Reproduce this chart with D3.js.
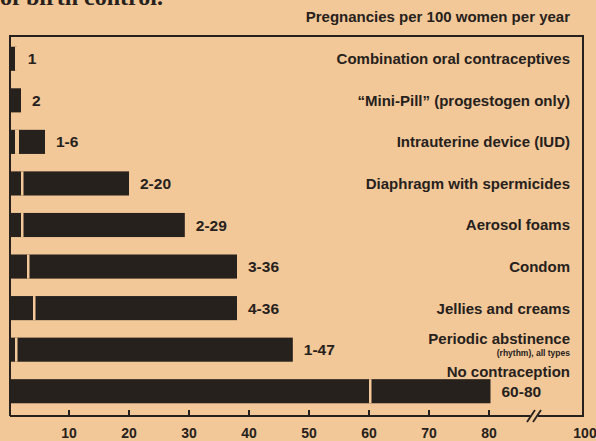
<!DOCTYPE html>
<html>
<head>
<meta charset="utf-8">
<script src="https://cdn.jsdelivr.net/npm/d3@7"></script>
<style>
  html, body { margin: 0; padding: 0; background: #f2c898; }
  svg { display: block; }
  text { font-family: "Liberation Sans", Arial, sans-serif; font-weight: bold; fill: #26211c; }
</style>
</head>
<body>
<svg id="chart" width="596" height="441"></svg>
<script>
// ---- data ----
const categories = [
  "Combination oral contraceptives",
  "\u201CMini-Pill\u201D (progestogen only)",
  "Intrauterine device (IUD)",
  "Diaphragm with spermicides",
  "Aerosol foams",
  "Condom",
  "Jellies and creams",
  "Periodic abstinence",
  "No contraception"
];
const lowValues  = [1, 2, 1, 2, 2, 3, 4, 1, 60];
const highValues = [1.3, 2, 6, 20, 29.3, 38, 38, 47.3, 80.3];
const rangeLabels = ["1", "2", "1-6", "2-20", "2-29", "3-36", "4-36", "1-47", "60-80"];
const subLabels = ["", "", "", "", "", "", "", "(rhythm), all types", ""];
const tickValues = [10, 20, 30, 40, 50, 60, 70, 80];
const tickLabels = ["10", "20", "30", "40", "50", "60", "70", "80", "100"];
const tickLabelValues = [10, 20, 30, 40, 50, 60, 70, 80, 100];
const unitTitle = "Pregnancies per 100 women per year";
const cutText = "of birth control.";

// ---- drawing ----
const bgCol = "#f2c898", ink = "#26211c";
const svg = d3.select("#chart");

const x = d3.scaleLinear().domain([0, 80, 100]).range([9, 489, 589]);
const y = d3.scaleBand().domain(categories).range([38, 412]).paddingInner(0.42).paddingOuter(0.21);

// heading text cut off at the top edge, as in the reference clipping
svg.append("text").attr("x", 0).attr("y", 5)
  .style("font-family", "'Liberation Serif', serif").style("font-size", "24px")
  .text(cutText);

svg.append("text").attr("x", 570).attr("y", 22).attr("text-anchor", "end")
  .style("font-size", "15px").text(unitTitle);

// frame
const frameL = 10, frameR = 583, frameT = 36, axisY = 416;
svg.append("path")
  .attr("d", `M${frameL},${axisY} V${frameT} H${frameR} V${axisY} H${frameL}`)
  .attr("fill", "none").attr("stroke", ink).attr("stroke-width", 2);

// axis break
const bx = x(89);
svg.append("rect").attr("x", bx - 4).attr("y", axisY - 2).attr("width", 8).attr("height", 4).attr("fill", bgCol);
[-3, 3].forEach(o => {
  svg.append("line")
    .attr("x1", bx + o - 4).attr("y1", axisY + 6).attr("x2", bx + o + 4).attr("y2", axisY - 6)
    .attr("stroke", ink).attr("stroke-width", 1.8);
});

// ticks
svg.selectAll(".tick").data(tickValues).enter().append("line")
  .attr("x1", d => x(d)).attr("x2", d => x(d))
  .attr("y1", axisY).attr("y2", axisY - 6)
  .attr("stroke", ink).attr("stroke-width", 2);

svg.selectAll(".tl").data(tickLabelValues).enter().append("text")
  .attr("x", (d, i) => d === 100 ? 585 : x(d))
  .attr("y", 438).attr("text-anchor", "middle")
  .style("font-size", "14px")
  .text((d, i) => tickLabels[i]);

// bars
const rows = categories.map((c, i) => ({c, lo: lowValues[i], hi: highValues[i], lab: rangeLabels[i], sub: subLabels[i], i}));

svg.selectAll(".bar").data(rows).enter().append("rect")
  .attr("x", x(0)).attr("y", d => y(d.c))
  .attr("width", d => x(d.hi) - x(0)).attr("height", y.bandwidth())
  .attr("fill", ink);

svg.selectAll(".div").data(rows.filter(d => d.lo < d.hi)).enter().append("rect")
  .attr("x", d => x(d.lo)).attr("y", d => y(d.c))
  .attr("width", d => d.hi < 10 ? 4 : 2.5).attr("height", y.bandwidth())
  .attr("fill", bgCol);

// value labels
svg.selectAll(".val").data(rows).enter().append("text")
  .attr("x", d => x(d.hi) + 11)
  .attr("y", d => y(d.c) + y.bandwidth() / 2).attr("dy", "0.36em")
  .style("font-size", "15.5px")
  .text(d => d.lab);

// category labels
svg.selectAll(".cat").data(rows).enter().append("text")
  .attr("x", 570).attr("text-anchor", "end")
  .attr("y", d => {
    const cy = y(d.c) + y.bandwidth() / 2;
    if (d.i === 7) return cy - 11;
    if (d.i === 8) return cy - 20;
    return cy;
  })
  .attr("dy", "0.36em")
  .style("font-size", "15px")
  .text(d => d.c);

svg.selectAll(".sub").data(rows.filter(d => d.sub)).enter().append("text")
  .attr("x", 570).attr("text-anchor", "end")
  .attr("y", d => y(d.c) + y.bandwidth() / 2 + 3)
  .attr("dy", "0.36em")
  .style("font-size", "8.5px")
  .text(d => d.sub);
</script>
</body>
</html>
